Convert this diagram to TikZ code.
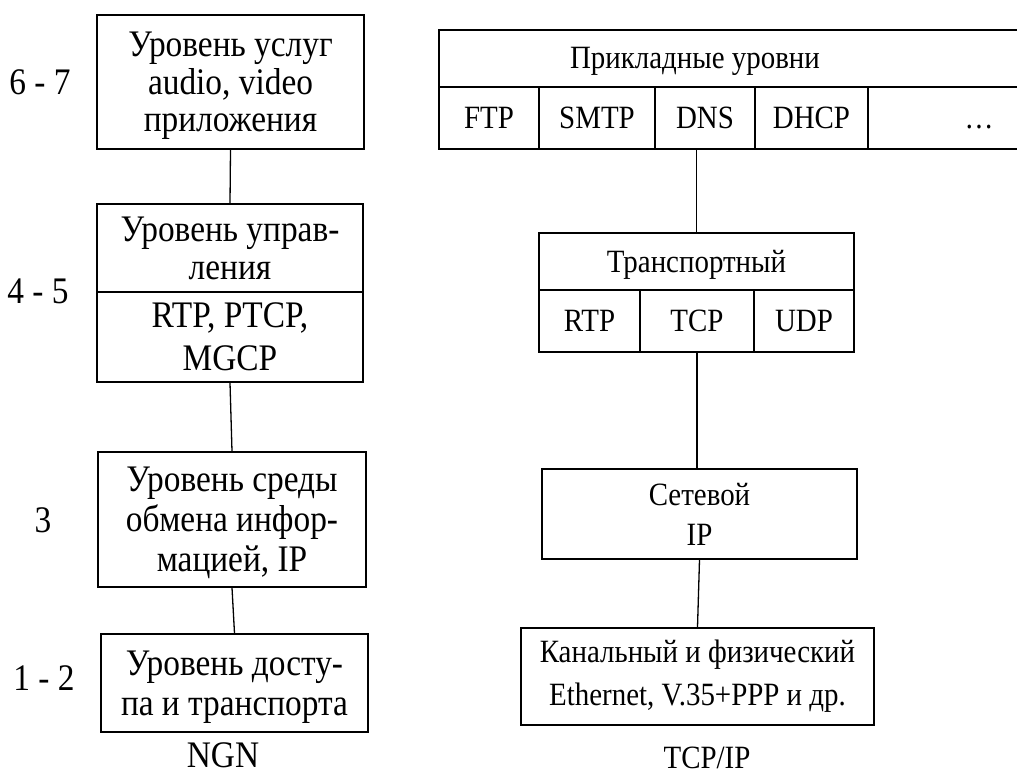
\documentclass[tikz,border=0pt]{standalone}
\usepackage{fontspec}
\setmainfont{Liberation Serif}[FakeStretch=0.89]
\usepackage{tikz}
\usetikzlibrary{positioning,calc}

\tikzset{
  big/.style={font=\fontsize{37.5}{40}\selectfont},
  small/.style={font=\fontsize{32.5}{41}\selectfont},
  layer/.style={draw,line width=1.5pt,inner sep=0pt,align=center},
  link/.style={line width=1.3pt}
}

\begin{document}
\begin{tikzpicture}[x=1pt,y=-1pt]
\path[use as bounding box,clip] (0,0) rectangle (1017,776);
% --- NGN stack -------------------------------------------------------
\node[layer,big,font=\fontsize{37.5}{37.5}\selectfont,text depth=0pt,
      minimum width=267,minimum height=134] (svc) at (230.5,82)
  {Уровень услуг\\audio, video\\приложения};
\node[layer,big,font=\fontsize{37.5}{38}\selectfont,
      minimum width=266,minimum height=88] (ctlh) at (230,248)
  {Уровень управ-\\ления};
\node[layer,big,font=\fontsize{37.5}{43}\selectfont,
      minimum width=266,minimum height=90] (ctlp) at (230,337)
  {RTP, PTCP,\\MGCP};
\node[layer,big,text depth=0pt,
      minimum width=268,minimum height=135] (env) at (232,519.5)
  {Уровень среды\\обмена инфор-\\мацией, IP};
\node[layer,big,text depth=0pt,
      minimum width=267,minimum height=98] (acc) at (234.5,683)
  {Уровень досту-\\па и транспорта};
% level numbers
\node[big] (n67) at (40,82) {6 - 7};
\node[big] (n45) at (38,291) {4 - 5};
\node[big] (n3) at (43,520) {3};
\node[big] (n12) at (44,678) {1 - 2};
\node[big,anchor=base,inner sep=0pt] (ngn) at (223,767) {NGN};
\draw[link] (svc.south) -- (ctlh.north);
\draw[link] (ctlp.south) -- (env.north);
\draw[link] (env.south) -- (acc.north);
% --- TCP/IP stack ----------------------------------------------------
\node[layer,minimum width=651,minimum height=57] (app) at (764.5,58.5)
  {};
\node[small] (apptxt) at (695,61) {Прикладные уровни};
\foreach \nm/\cx/\w/\lab in {ftp/489/100/FTP, smtp/597/116/SMTP,
                             dns/705/100/DNS, dhcp/811.5/113/DHCP,
                             more/979/222/{\vphantom{D}\dots}} {
  \node[layer,small,minimum width=\w,minimum height=62] (\nm) at (\cx,118)
    {\lab};
}
\node[layer,small,text depth=0pt,minimum width=315,minimum height=57] (trh)
  at (696.5,261.5) {Транспортный};
\foreach \nm/\cx/\w/\lab in {rtp/589.5/101/RTP, tcp/697/114/TCP,
                             udp/804/100/UDP} {
  \node[layer,small,minimum width=\w,minimum height=62] (\nm) at (\cx,321)
    {\lab};
}
\node[layer,small,font=\fontsize{32.5}{40}\selectfont,
      minimum width=315,minimum height=90] (net) at (699.5,514)
  {Сетевой\\IP};
\node[layer,small,font=\fontsize{32.5}{43}\selectfont,
      minimum width=353,minimum height=97] (lnk) at (697.5,676.5)
  {Канальный и физический\\Ethernet, V.35+PPP и др.};
\node[small,anchor=base,inner sep=0pt] (tcpip) at (707,768) {TCP/IP};
\draw[link] (trh.north |- dns.south) -- (trh.north);
\draw[link] (tcp.south) -- (tcp.south |- net.north);
\draw[link] (net.south) -- (lnk.north);
\end{tikzpicture}
\end{document}
